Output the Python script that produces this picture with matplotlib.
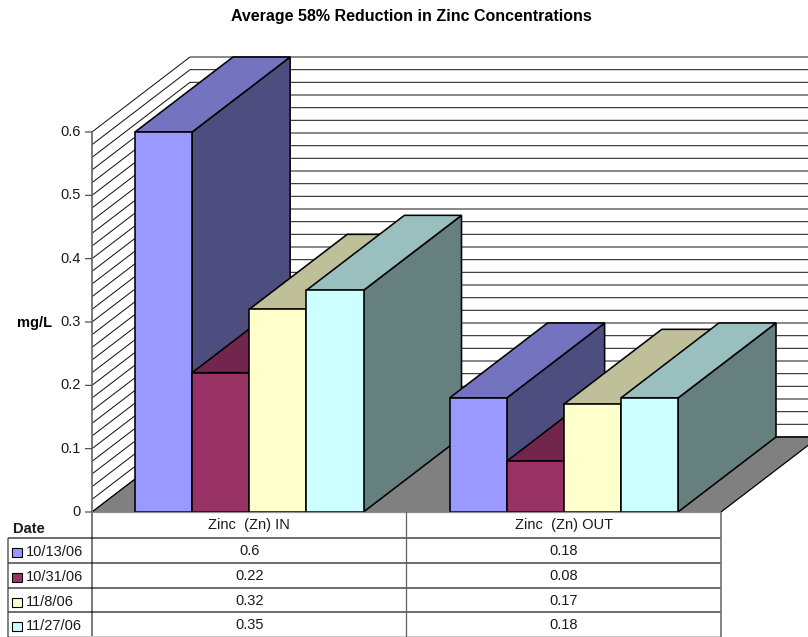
import numpy as np
import matplotlib
matplotlib.use("Agg")
import matplotlib.pyplot as plt
from matplotlib.patches import Polygon, Rectangle
from matplotlib.lines import Line2D
from matplotlib.transforms import Affine2D

plt.rcParams['font.family'] = ['Liberation Sans', 'DejaVu Sans']

# Chart data
categories = ["Zinc  (Zn) IN", "Zinc  (Zn) OUT"]
dates = ["10/13/06", "10/31/06", "11/8/06", "11/27/06"]
zinc_in = [0.6, 0.22, 0.32, 0.35]
zinc_out = [0.18, 0.08, 0.17, 0.18]
y_ticks = [0, 0.1, 0.2, 0.3, 0.4, 0.5, 0.6]
y_tick_labels = ["0", "0.1", "0.2", "0.3", "0.4", "0.5", "0.6"]
title = "Average 58% Reduction in Zinc Concentrations"

# Series colours: front face, top face, side face
front_colors = ["#9999FF", "#993366", "#FFFFCC", "#CCFFFF"]
top_colors = ["#7373BF", "#73264D", "#BFBF99", "#99BFBF"]
side_colors = ["#4D4D80", "#4D1A33", "#808066", "#668080"]

W, H = 808, 637
FS = 10.5
TXT = "#1a1a1a"
fig = plt.figure(figsize=(W / 100, H / 100), dpi=100, facecolor="white")

# Front plane of the plot box: x in category units, y in mg/L
LEFT, RIGHT, BASE, TOP = 92.0, 721.0, 512.0, 132.0
ax = fig.add_axes([LEFT / W, 1 - BASE / H, (RIGHT - LEFT) / W, (BASE - TOP) / H])
ax.set_xlim(0, 2)
ax.set_ylim(0, 0.6)
ax.axis("off")

# Oblique depth of the box expressed in data units
DX = 98.0 / ((RIGHT - LEFT) / 2)
DY = 75.0 / ((BASE - TOP) / 0.6)
EXT_X = 2 + DX
LW = 0.72


def line(xs, ys, color="black", lw=LW, z=2, **kw):
    ax.add_line(Line2D(xs, ys, color=color, lw=lw, zorder=z, clip_on=False,
                       solid_capstyle="butt", snap=False, **kw))


def poly(points, face, z, lw=1.15):
    ax.add_patch(Polygon(points, closed=True, facecolor=face, edgecolor="black",
                         lw=lw, zorder=z, clip_on=False, joinstyle="miter"))


# Gridlines on the side wall and the back wall
for g in np.arange(0, 0.6001, 0.02):
    line([0, DX], [g, g + DY], z=1, lw=0.72, color="#111111")
    line([DX, EXT_X], [g + DY, g + DY], z=1, lw=0.76, color="#222222")

# Floor
ax.add_patch(Polygon([(0, 0), (DX, DY), (EXT_X, DY), (2, 0)], closed=True,
                     facecolor="#808080", edgecolor="none", zorder=1.5, clip_on=False))
line([0, DX], [0, DY], z=1.6, lw=0.9)
line([DX, EXT_X], [DY, DY], z=1.6, lw=1.1)
line([2, 2 + DX], [0, DY], z=1.6, lw=0.9)

# Bars, painted left to right so that nearer faces overlap correctly
GAP = 43.0 / ((RIGHT - LEFT) / 2)
BAR_W = (1 - 2 * GAP) / len(dates)
z = 3.0
for c, values in enumerate([zinc_in, zinc_out]):
    for s, v in enumerate(values):
        x0 = c + GAP + s * BAR_W
        x1 = x0 + BAR_W
        poly([(x1, 0), (x1 + DX, DY), (x1 + DX, v + DY), (x1, v)], side_colors[s], z)
        poly([(x0, v), (x0 + DX, v + DY), (x1 + DX, v + DY), (x1, v)], top_colors[s], z + 0.1)
        poly([(x0, 0), (x1, 0), (x1, v), (x0, v)], front_colors[s], z + 0.2)
        z += 0.5

# Value axis
AXIS_GRAY = "#707070"
px = Affine2D().scale(1, -1).translate(0, H)  # pixel coordinates, origin top-left
ax.add_line(Line2D([LEFT, LEFT], [TOP, H - 0.5], color=AXIS_GRAY, lw=1.3,
                   transform=px, clip_on=False, zorder=8))
for t, lab in zip(y_ticks, y_tick_labels):
    line([-7 / ((RIGHT - LEFT) / 2), 0], [t, t], color="#404040", lw=0.8, z=8)
    ax.annotate(lab, (0, t), xytext=(-11, 0), textcoords="offset pixels",
                ha="right", va="center", fontsize=FS, color=TXT)

# Axis title and chart title
fig.text(52 / W, 1 - 322.5 / H, "mg/L", ha="right", va="center", fontsize=FS,
         fontweight="bold", color="black")
fig.text(411.5 / W, 1 - 16 / H, title, ha="center", va="center", fontsize=11.5,
         fontweight="bold", color="black")

# Data table under the plot
ROW_Y = [512.0, 538.0, 563.0, 588.0, 612.0, 636.6]
VALUE_Y = [551, 576, 601, 625]
LABEL_Y = [552.5, 577, 602, 626.5]
TBL_LEFT = 8.0
MID = (LEFT + RIGHT) / 2


def pline(xs, ys, color="black", lw=LW):
    ax.add_line(Line2D(xs, ys, color=color, lw=lw, transform=px, clip_on=False,
                       zorder=9, solid_capstyle="butt", snap=False))


def ptext(x, y, s, **kw):
    ax.text(x, y, s, transform=px, fontsize=FS, color=TXT, va="center",
            clip_on=False, zorder=10, **kw)


pline([LEFT, RIGHT], [BASE + 0.5, BASE + 0.5], color="#909090", lw=0.9)
for y in ROW_Y[1:5]:
    pline([TBL_LEFT, RIGHT], [y, y], lw=0.8)
pline([TBL_LEFT, RIGHT], [ROW_Y[5], ROW_Y[5]], color="#C8C8C8", lw=0.9)
pline([TBL_LEFT, TBL_LEFT], [ROW_Y[1], H], color="#303030", lw=0.85)
pline([MID, MID], [BASE, H], color="#606060", lw=0.9)
pline([RIGHT, RIGHT], [BASE, H], color="#707070", lw=1.2)

ptext(13, 529, "Date", ha="left", fontweight="bold")
ptext((LEFT + MID) / 2, 525, categories[0], ha="center")
ptext((MID + RIGHT) / 2, 525, categories[1], ha="center")

for r, d in enumerate(dates):
    ax.add_patch(Rectangle((12, LABEL_Y[r] - 4.5), 9.5, 9, transform=px, facecolor=front_colors[r],
                           edgecolor="black", lw=0.8, clip_on=False, zorder=10))
    ptext(26, LABEL_Y[r], d, ha="left")
    ptext((LEFT + MID) / 2, VALUE_Y[r], f"{zinc_in[r]:g}", ha="center")
    ptext((MID + RIGHT) / 2, VALUE_Y[r], f"{zinc_out[r]:g}", ha="center")

fig.savefig("out.png", dpi=100, facecolor="white")
